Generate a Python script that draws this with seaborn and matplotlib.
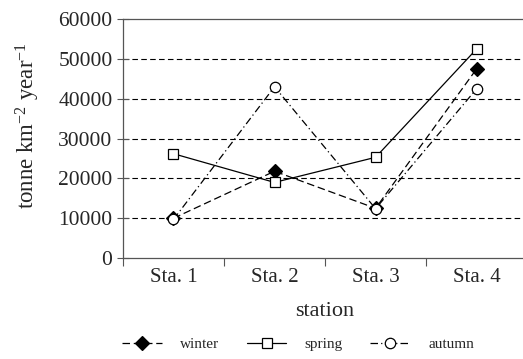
import numpy as np
import pandas as pd
import matplotlib
matplotlib.use("Agg")
import matplotlib.pyplot as plt
import seaborn as sns
from matplotlib.lines import Line2D

stations = ["Sta. 1", "Sta. 2", "Sta. 3", "Sta. 4"]
winter = [10000, 21800, 12500, 47500]
spring = [26200, 19000, 25300, 52500]
autumn = [9700, 43000, 12400, 42500]

sns.set_theme(style="white")
plt.rcParams['font.family'] = ['Liberation Serif', 'DejaVu Serif']
plt.rcParams['mathtext.fontset'] = 'custom'
plt.rcParams['mathtext.rm'] = 'Liberation Serif'
plt.rcParams['mathtext.it'] = 'Liberation Serif:italic'

fig = plt.figure(figsize=(5.23, 3.59), dpi=100)
ax = fig.add_axes([0.235, 0.281, 0.773, 0.666])

x = np.arange(len(stations))
series = [
    ("winter", winter, dict(linestyle=(0, (6, 3)), marker="D", markerfacecolor="black", markersize=7)),
    ("spring", spring, dict(linestyle="-", marker="s", markerfacecolor="white", markersize=7.5)),
    ("autumn", autumn, dict(linestyle=(0, (6, 2.5, 1, 2.5)), marker="o", markerfacecolor="white", markersize=7.5)),
]
handles = []
for name, vals, kw in series:
    df = pd.DataFrame({"x": x, "y": vals})
    sns.lineplot(data=df, x="x", y="y", ax=ax, color="black", linewidth=0.9,
                 markeredgecolor="black", markeredgewidth=0.9, **kw)
    handles.append(Line2D([], [], color="black", linewidth=0.9, markeredgecolor="black",
                          markeredgewidth=0.9, label=name, **kw))

ax.set_xlim(-0.5, 3.5)
ax.set_ylim(0, 60000)
ax.set_yticks(np.arange(0, 60001, 10000))
for yv in range(10000, 60000, 10000):
    ax.axhline(yv, color="black", linewidth=0.8, linestyle=(0, (5, 3)), zorder=0)

ax.set_xticks([-0.5, 0.5, 1.5, 2.5, 3.5])
ax.set_xticklabels([])
ax.set_xticks(x, minor=True)
ax.set_xticklabels(stations, minor=True)
ax.tick_params(axis="x", which="major", direction="out", length=6, width=0.8, color="#555555", bottom=True)
ax.tick_params(axis="x", which="minor", length=0, labelsize=15, pad=7)
ax.tick_params(axis="y", direction="inout", length=9, width=0.8, color="#555555", left=True, labelsize=15.5, pad=3)

for s in ["left", "top", "bottom", "right"]:
    ax.spines[s].set_color("#555555")
    ax.spines[s].set_linewidth(0.9)

ax.set_xlabel("station", fontsize=16, labelpad=11)
ax.set_ylabel(r"tonne km$^{-2}$ year$^{-1}$", fontsize=16.5)
ax.yaxis.set_label_coords(-0.20, 0.555)

fig.legend(handles=handles, loc="center", bbox_to_anchor=(0.57, 0.04), ncol=3, frameon=False,
           fontsize=11, handlelength=2.6, columnspacing=1.8, handletextpad=1.2)

fig.savefig("out.png", dpi=100)
